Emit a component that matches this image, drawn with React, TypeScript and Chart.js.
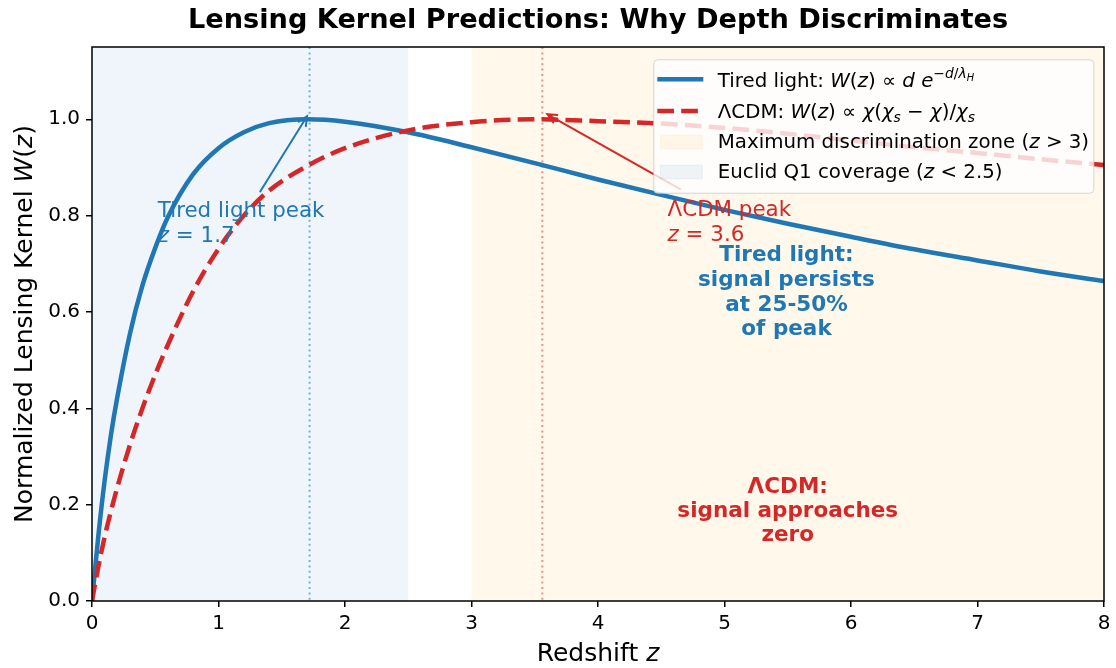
import React, { useEffect, useRef } from 'react';
import { Chart, registerables } from 'chart.js';

Chart.register(...registerables);

const FONT = '"DejaVu Sans", sans-serif';
const BLUE = '#1f77b4';
const RED = '#d62728';

// Redshift sampling and the two normalized kernels
const redshift = [0, 0.05, 0.1, 0.15, 0.2, 0.3, 0.4, 0.5, 0.6, 0.8, 1.0, 1.2, 1.4, 1.7, 2.0, 2.5, 3.0, 3.5, 4.0, 4.5, 5.0, 5.5, 6.0, 6.5, 7.0, 7.5, 8.0];
const tiredLightKernel = [0, 0.135, 0.25, 0.345, 0.423, 0.555, 0.656, 0.733, 0.797, 0.886, 0.94, 0.973, 0.992, 1.0, 0.995, 0.973, 0.942, 0.909, 0.875, 0.843, 0.812, 0.783, 0.756, 0.73, 0.707, 0.684, 0.664];
const lcdmKernel = [0, 0.071, 0.133, 0.187, 0.236, 0.324, 0.401, 0.47, 0.532, 0.643, 0.731, 0.8, 0.852, 0.903, 0.94, 0.977, 0.994, 1.0, 0.996, 0.991, 0.982, 0.97, 0.956, 0.942, 0.93, 0.917, 0.905];

const xTicks = [0, 1, 2, 3, 4, 5, 6, 7, 8];
const yTicks = [0, 0.2, 0.4, 0.6, 0.8, 1.0];

// Shaded redshift bands
const euclidRange = [0, 2.5];
const discriminationRange = [3, 8];

// Kernel peaks
const tiredPeakZ = 1.72;
const lcdmPeakZ = 3.56;
const peakValue = 1.0;

// Annotation anchors (data coordinates)
const tiredLabelAt = [0.52, 0.8];
const lcdmLabelAt = [4.55, 0.8];
const tiredArrowFrom = [1.33, 0.85];
const lcdmArrowFrom = [4.65, 0.855];
const tiredNoteAt = [5.49, 0.705];
const lcdmNoteAt = [5.5, 0.224];

const tiredNote = ['Tired light:', 'signal persists', 'at 25-50%', 'of peak'];
const lcdmNote = ['ΛCDM:', 'signal approaches', 'zero'];

type Run = { t: string; it?: boolean; lvl?: 'sup' | 'sub' | 'supsub' };

function runSize(r: Run, size: number) {
  if (r.lvl === 'sup' || r.lvl === 'sub') return size * 0.7;
  if (r.lvl === 'supsub') return size * 0.5;
  return size;
}
function runShift(r: Run, size: number) {
  if (r.lvl === 'sup') return -size * 0.42;
  if (r.lvl === 'sub') return size * 0.2;
  if (r.lvl === 'supsub') return -size * 0.3;
  return 0;
}
function runFont(r: Run, size: number, weight: string) {
  return `${r.it ? 'italic ' : ''}${weight} ${runSize(r, size)}px ${FONT}`;
}
function drawRuns(
  ctx: CanvasRenderingContext2D,
  runs: Run[],
  x: number,
  y: number,
  size: number,
  color: string,
  align: 'left' | 'center' = 'left',
  weight = 'normal'
) {
  ctx.save();
  ctx.textBaseline = 'alphabetic';
  ctx.textAlign = 'left';
  ctx.fillStyle = color;
  let total = 0;
  for (const r of runs) {
    ctx.font = runFont(r, size, weight);
    total += ctx.measureText(r.t).width;
  }
  let cx = align === 'center' ? x - total / 2 : x;
  for (const r of runs) {
    ctx.font = runFont(r, size, weight);
    ctx.fillText(r.t, cx, y + runShift(r, size));
    cx += ctx.measureText(r.t).width;
  }
  ctx.restore();
}

function drawArrow(ctx: CanvasRenderingContext2D, x0: number, y0: number, x1: number, y1: number, color: string) {
  const ang = Math.atan2(y1 - y0, x1 - x0);
  const hl = 9;
  const hw = 4.2;
  ctx.save();
  ctx.strokeStyle = color;
  ctx.lineWidth = 2;
  ctx.lineCap = 'round';
  ctx.beginPath();
  ctx.moveTo(x0, y0);
  ctx.lineTo(x1, y1);
  const bx = x1 - hl * Math.cos(ang);
  const by = y1 - hl * Math.sin(ang);
  const px = -Math.sin(ang) * hw;
  const py = Math.cos(ang) * hw;
  ctx.moveTo(bx + px, by + py);
  ctx.lineTo(x1, y1);
  ctx.lineTo(bx - px, by - py);
  ctx.stroke();
  ctx.restore();
}

const legendRows: { kind: 'line' | 'dash' | 'patch'; color: string; runs: Run[] }[] = [
  {
    kind: 'line',
    color: BLUE,
    runs: [
      { t: 'Tired light: ' }, { t: 'W', it: true }, { t: '(' }, { t: 'z', it: true }, { t: ') ∝ ' },
      { t: 'd', it: true }, { t: ' ' }, { t: 'e', it: true },
      { t: '−', lvl: 'sup' }, { t: 'd', it: true, lvl: 'sup' }, { t: '/', lvl: 'sup' }, { t: 'λ', it: true, lvl: 'sup' },
      { t: 'H', it: true, lvl: 'supsub' },
    ],
  },
  {
    kind: 'dash',
    color: RED,
    runs: [
      { t: 'ΛCDM: ' }, { t: 'W', it: true }, { t: '(' }, { t: 'z', it: true }, { t: ') ∝ ' },
      { t: 'χ', it: true }, { t: '(' }, { t: 'χ', it: true }, { t: 's', it: true, lvl: 'sub' }, { t: ' − ' },
      { t: 'χ', it: true }, { t: ')/' }, { t: 'χ', it: true }, { t: 's', it: true, lvl: 'sub' },
    ],
  },
  {
    kind: 'patch',
    color: 'rgba(255,165,0,0.08)',
    runs: [{ t: 'Maximum discrimination zone (' }, { t: 'z', it: true }, { t: ' > 3)' }],
  },
  {
    kind: 'patch',
    color: 'rgba(31,119,180,0.07)',
    runs: [{ t: 'Euclid Q1 coverage (' }, { t: 'z', it: true }, { t: ' < 2.5)' }],
  },
];

const DASH = [16.7, 7.2];

const decor = {
  id: 'decor',
  beforeDatasetsDraw(chart: any) {
    const { ctx, chartArea: a, scales } = chart;
    const x = scales.x;
    ctx.save();
    ctx.fillStyle = 'rgba(31,119,180,0.07)';
    const e0 = x.getPixelForValue(euclidRange[0]);
    const e1 = x.getPixelForValue(euclidRange[1]);
    ctx.fillRect(e0, a.top, e1 - e0, a.bottom - a.top);
    ctx.fillStyle = 'rgba(255,165,0,0.08)';
    const d0 = x.getPixelForValue(discriminationRange[0]);
    const d1 = x.getPixelForValue(discriminationRange[1]);
    ctx.fillRect(d0, a.top, d1 - d0, a.bottom - a.top);

    ctx.lineWidth = 2;
    ctx.setLineDash([2, 3.4]);
    const vline = (z: number, color: string) => {
      const px = x.getPixelForValue(z);
      ctx.strokeStyle = color;
      ctx.beginPath();
      ctx.moveTo(px, a.top);
      ctx.lineTo(px, a.bottom);
      ctx.stroke();
    };
    vline(tiredPeakZ, 'rgba(31,119,180,0.55)');
    vline(lcdmPeakZ, 'rgba(214,39,40,0.5)');
    ctx.restore();
  },
  afterDatasetsDraw(chart: any) {
    const { ctx, chartArea: a, scales } = chart;
    const x = scales.x;
    const y = scales.y;
    const px = (z: number) => x.getPixelForValue(z);
    const py = (v: number) => y.getPixelForValue(v);

    // Peak annotations
    const annSize = 21.4;
    drawArrow(ctx, px(tiredArrowFrom[0]), py(tiredArrowFrom[1]), px(1.7), py(peakValue) - 3, BLUE);
    drawArrow(ctx, px(lcdmArrowFrom[0]), py(lcdmArrowFrom[1]), px(3.6), py(peakValue) - 5, RED);
    drawRuns(ctx, [{ t: 'Tired light peak' }], px(tiredLabelAt[0]), py(tiredLabelAt[1]) + 1, annSize, BLUE);
    drawRuns(ctx, [{ t: 'z', it: true }, { t: ' = ' + tiredPeakZ.toFixed(1) }], px(tiredLabelAt[0]), py(tiredLabelAt[1]) + 26, annSize, BLUE);
    drawRuns(ctx, [{ t: 'ΛCDM peak' }], px(lcdmLabelAt[0]), py(lcdmLabelAt[1]), annSize, RED);
    drawRuns(ctx, [{ t: 'z', it: true }, { t: ' = ' + lcdmPeakZ.toFixed(1) }], px(lcdmLabelAt[0]), py(lcdmLabelAt[1]) + 25, annSize, RED);

    // Bold notes
    const noteSize = 21.5;
    tiredNote.forEach((line, i) => {
      drawRuns(ctx, [{ t: line }], px(tiredNoteAt[0]), py(tiredNoteAt[1]) + i * 24.6, noteSize, BLUE, 'center', 'bold');
    });
    lcdmNote.forEach((line, i) => {
      drawRuns(ctx, [{ t: line }], px(lcdmNoteAt[0]), py(lcdmNoteAt[1]) + i * 24.2, noteSize, RED, 'center', 'bold');
    });

    // Legend
    const lw = 440;
    const lh = 133.4;
    const lx = a.right - 10.7 - lw;
    const ly = a.top + 12.3;
    ctx.save();
    ctx.beginPath();
    ctx.roundRect(lx + 0.5, ly + 0.5, lw, lh, 4);
    ctx.fillStyle = 'rgba(255,255,255,0.8)';
    ctx.fill();
    ctx.strokeStyle = 'rgba(204,204,204,0.8)';
    ctx.lineWidth = 1;
    ctx.stroke();
    ctx.restore();

    const baselines = [27.4, 59, 89, 119];
    const handles = [20, 51.7, 82.7, 112.7];
    legendRows.forEach((row, i) => {
      const hy = ly + handles[i];
      ctx.save();
      if (row.kind === 'patch') {
        ctx.fillStyle = row.color;
        ctx.fillRect(lx + 7, hy - 7, 42, 14);
        ctx.strokeStyle = row.color;
        ctx.lineWidth = 1;
        ctx.strokeRect(lx + 7, hy - 7, 42, 14);
      } else {
        ctx.strokeStyle = row.color;
        ctx.lineWidth = 4.5;
        if (row.kind === 'dash') ctx.setLineDash(DASH);
        ctx.beginPath();
        ctx.moveTo(lx + 4, hy);
        ctx.lineTo(lx + 50, hy);
        ctx.stroke();
      }
      ctx.restore();
      drawRuns(ctx, row.runs, lx + 64.5, ly + baselines[i], 19.8, '#000');
    });

    // Axes frame
    ctx.save();
    ctx.strokeStyle = '#000';
    ctx.lineWidth = 1.5;
    ctx.strokeRect(a.left, a.top, a.right - a.left, a.bottom - a.top);
    ctx.restore();
  },
  afterDraw(chart: any) {
    const { ctx, chartArea: a } = chart;
    const cx = (a.left + a.right) / 2;
    drawRuns(ctx, [{ t: 'Lensing Kernel Predictions: Why Depth Discriminates' }], cx, 28, 27.2, '#000', 'center', 'bold');
    drawRuns(ctx, [{ t: 'Redshift ' }, { t: 'z', it: true }], cx, 661, 25, '#000', 'center');
    ctx.save();
    ctx.translate(32, (a.top + a.bottom) / 2);
    ctx.rotate(-Math.PI / 2);
    drawRuns(ctx, [{ t: 'Normalized Lensing Kernel ' }, { t: 'W', it: true }, { t: '(' }, { t: 'z', it: true }, { t: ')' }], 0, 0, 25, '#000', 'center');
    ctx.restore();
  },
};

export default function App() {
  const canvasRef = useRef<HTMLCanvasElement | null>(null);

  useEffect(() => {
    const canvas = canvasRef.current;
    if (!canvas) return;
    const chart = new Chart(canvas, {
      type: 'line',
      data: {
        datasets: [
          {
            label: 'Tired light',
            data: redshift.map((z, i) => ({ x: z, y: tiredLightKernel[i] })),
            borderColor: BLUE,
            borderWidth: 4.5,
            pointRadius: 0,
            fill: false,
            cubicInterpolationMode: 'monotone',
            order: 1,
          },
          {
            label: 'ΛCDM',
            data: redshift.map((z, i) => ({ x: z, y: lcdmKernel[i] })),
            borderColor: RED,
            borderWidth: 4.5,
            borderDash: DASH,
            pointRadius: 0,
            fill: false,
            cubicInterpolationMode: 'monotone',
            order: 0,
          },
        ],
      },
      options: {
        animation: false,
        responsive: false,
        maintainAspectRatio: false,
        devicePixelRatio: 1,
        layout: { padding: { left: 0, right: 12, top: 47, bottom: 0 } },
        plugins: {
          legend: { display: false },
          tooltip: { enabled: false },
          title: { display: false },
        },
        scales: {
          x: {
            type: 'linear',
            min: 0,
            max: 8,
            afterBuildTicks: (s: any) => {
              s.ticks = xTicks.map((v) => ({ value: v }));
            },
            afterFit: (s: any) => {
              s.height = 67;
            },
            ticks: {
              font: { family: FONT, size: 20 },
              color: '#000',
              padding: 5,
              maxRotation: 0,
              autoSkip: false,
              callback: (v: any) => String(v),
            },
            grid: { drawOnChartArea: false, drawTicks: true, tickLength: 6, color: '#000', lineWidth: 1.5 },
            border: { display: false },
          },
          y: {
            type: 'linear',
            min: 0,
            max: 1.15,
            afterBuildTicks: (s: any) => {
              s.ticks = yTicks.map((v) => ({ value: v }));
            },
            afterFit: (s: any) => {
              s.width = 92;
            },
            ticks: {
              font: { family: FONT, size: 20 },
              color: '#000',
              padding: 6,
              autoSkip: false,
              callback: (v: any) => Number(v).toFixed(1),
            },
            grid: { drawOnChartArea: false, drawTicks: true, tickLength: 6, color: '#000', lineWidth: 1.5 },
            border: { display: false },
          },
        },
      },
      plugins: [decor],
    } as any);
    return () => chart.destroy();
  }, []);

  return (
    <div style={{ position: 'fixed', left: 0, top: 0, width: 1116, height: 668, background: '#fff' }}>
      <canvas ref={canvasRef} width={1116} height={668} style={{ width: 1116, height: 668, display: 'block' }} />
    </div>
  );
}
